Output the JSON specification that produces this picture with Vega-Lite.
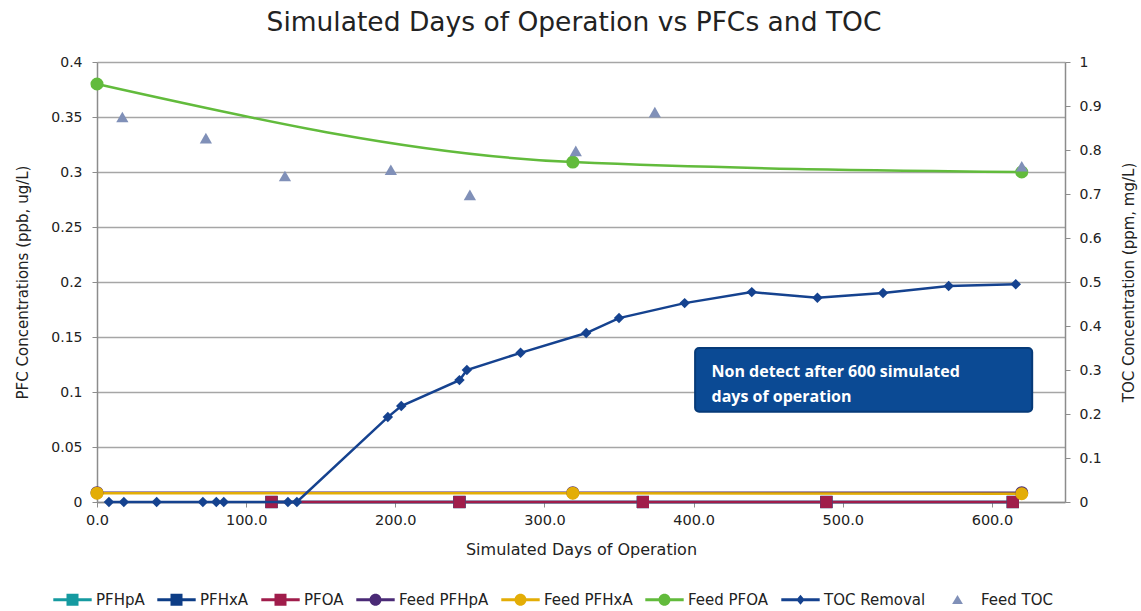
{
  "$schema": "https://vega.github.io/schema/vega-lite/v6.json",
  "width": 968,
  "height": 440,
  "autosize": {"type": "none"},
  "padding": {"left": 97, "top": 62, "right": 76, "bottom": 109},
  "background": "white",
  "title": {"text": "Simulated Days of Operation vs PFCs and TOC", "font": "DejaVu Sans", "fontSize": 26.5, "fontWeight": "normal", "color": "#222222", "offset": 19, "anchor": "middle", "dx": -7},
  "datasets": {
    "pfc": [
      {"series": "PFHpA", "day": 117, "value": 0},
      {"series": "PFHpA", "day": 243, "value": 0},
      {"series": "PFHpA", "day": 366, "value": 0},
      {"series": "PFHpA", "day": 489, "value": 0},
      {"series": "PFHpA", "day": 614, "value": 0},
      {"series": "PFHxA", "day": 117, "value": 0},
      {"series": "PFHxA", "day": 243, "value": 0},
      {"series": "PFHxA", "day": 366, "value": 0},
      {"series": "PFHxA", "day": 489, "value": 0},
      {"series": "PFHxA", "day": 614, "value": 0},
      {"series": "Feed PFHpA", "day": 0, "value": 0.0085},
      {"series": "Feed PFHpA", "day": 319, "value": 0.0085},
      {"series": "Feed PFHpA", "day": 620, "value": 0.0085},
      {"series": "Feed PFHxA", "day": 0, "value": 0.008},
      {"series": "Feed PFHxA", "day": 319, "value": 0.008},
      {"series": "Feed PFHxA", "day": 620, "value": 0.0075},
      {"series": "PFOA", "day": 117, "value": 0},
      {"series": "PFOA", "day": 243, "value": 0},
      {"series": "PFOA", "day": 366, "value": 0},
      {"series": "PFOA", "day": 489, "value": 0},
      {"series": "PFOA", "day": 614, "value": 0},
      {"series": "Feed PFOA", "day": 0, "value": 0.38},
      {"series": "Feed PFOA", "day": 319, "value": 0.309},
      {"series": "Feed PFOA", "day": 620, "value": 0.3}
    ],
    "toc": [
      {"series": "TOC Removal", "day": 8, "value": 0},
      {"series": "TOC Removal", "day": 18, "value": 0},
      {"series": "TOC Removal", "day": 40, "value": 0},
      {"series": "TOC Removal", "day": 71, "value": 0},
      {"series": "TOC Removal", "day": 80, "value": 0},
      {"series": "TOC Removal", "day": 85, "value": 0},
      {"series": "TOC Removal", "day": 128, "value": 0},
      {"series": "TOC Removal", "day": 134, "value": 0},
      {"series": "TOC Removal", "day": 195, "value": 0.193},
      {"series": "TOC Removal", "day": 204, "value": 0.218},
      {"series": "TOC Removal", "day": 243, "value": 0.277},
      {"series": "TOC Removal", "day": 248, "value": 0.3},
      {"series": "TOC Removal", "day": 284, "value": 0.339},
      {"series": "TOC Removal", "day": 328, "value": 0.384},
      {"series": "TOC Removal", "day": 350, "value": 0.418},
      {"series": "TOC Removal", "day": 394, "value": 0.452},
      {"series": "TOC Removal", "day": 439, "value": 0.477},
      {"series": "TOC Removal", "day": 483, "value": 0.464},
      {"series": "TOC Removal", "day": 527, "value": 0.475},
      {"series": "TOC Removal", "day": 571, "value": 0.491},
      {"series": "TOC Removal", "day": 616, "value": 0.495},
      {"series": "Feed TOC", "day": 17, "value": 0.875},
      {"series": "Feed TOC", "day": 73, "value": 0.827},
      {"series": "Feed TOC", "day": 126, "value": 0.741},
      {"series": "Feed TOC", "day": 197, "value": 0.755},
      {"series": "Feed TOC", "day": 250, "value": 0.698},
      {"series": "Feed TOC", "day": 321, "value": 0.798},
      {"series": "Feed TOC", "day": 374, "value": 0.886},
      {"series": "Feed TOC", "day": 620, "value": 0.763}
    ],
    "box": [
      {"x1": 401, "x2": 627, "y1": 0.082, "y2": 0.14}
    ],
    "note": [
      {"label": "Non detect after 600 simulated", "x": 412, "y": 0.118},
      {"label": "days of operation", "x": 412, "y": 0.0955}
    ]
  },
  "layer": [
    {
      "data": {"name": "pfc"},
      "layer": [
        {
          "transform": [{"filter": "datum.series != 'Feed PFOA'"}],
          "mark": {"type": "line", "strokeWidth": 2.5},
          "encoding": {
            "x": {"field": "day", "type": "quantitative", "scale": {"domain": [0, 649], "nice": false, "zero": false},
              "axis": {"title": "Simulated Days of Operation", "values": [0, 100, 200, 300, 400, 500, 600], "format": ".1f", "grid": false, "labelFlush": false, "domainColor": "#8c8c8c", "domainWidth": 1.5, "tickColor": "#8c8c8c", "tickSize": 5, "labelFont": "DejaVu Sans", "labelFontSize": 14.5, "labelColor": "#222222", "labelPadding": 6, "titleFont": "DejaVu Sans", "titleFontSize": 16, "titleFontWeight": "normal", "titleColor": "#222222", "titlePadding": 15}},
            "y": {"field": "value", "type": "quantitative", "scale": {"domain": [0, 0.4], "nice": false},
              "axis": {"orient": "left", "title": "PFC Concentrations (ppb, ug/L)", "values": [0, 0.05, 0.1, 0.15, 0.2, 0.25, 0.3, 0.35, 0.4], "format": "~g", "grid": true, "gridColor": "#a6a6a6", "gridWidth": 1.5, "domainColor": "#8c8c8c", "domainWidth": 1.5, "tickColor": "#8c8c8c", "tickSize": 5, "labelFont": "DejaVu Sans", "labelFontSize": 14, "labelColor": "#222222", "labelPadding": 10, "titleFont": "DejaVu Sans", "titleFontSize": 15, "titleFontWeight": "normal", "titleColor": "#222222", "titlePadding": 20}},
            "color": {"field": "series", "type": "nominal",
              "scale": {"domain": ["PFHpA", "PFHxA", "PFOA", "Feed PFHpA", "Feed PFHxA", "Feed PFOA", "TOC Removal", "Feed TOC"],
                "range": ["#159aa0", "#0d3d86", "#a01d4b", "#4a2a76", "#e3ad06", "#62bb3c", "#15428f", "#8090b8"]},
              "legend": {"title": null}}
          }
        },
        {
          "transform": [{"filter": "datum.series == 'Feed PFOA'"}],
          "mark": {"type": "line", "strokeWidth": 2.5, "interpolate": "monotone"},
          "encoding": {
            "x": {"field": "day", "type": "quantitative"},
            "y": {"field": "value", "type": "quantitative"},
            "color": {"field": "series", "type": "nominal",
              "scale": {"domain": ["PFHpA", "PFHxA", "PFOA", "Feed PFHpA", "Feed PFHxA", "Feed PFOA", "TOC Removal", "Feed TOC"],
                "range": ["#159aa0", "#0d3d86", "#a01d4b", "#4a2a76", "#e3ad06", "#62bb3c", "#15428f", "#8090b8"]},
              "legend": {"title": null}}
          }
        },
        {
          "transform": [{"filter": "indexof(['PFHpA','PFHxA','PFOA'], datum.series) >= 0"}],
          "mark": {"type": "point", "shape": "square", "filled": true, "opacity": 1, "size": 150},
          "encoding": {
            "x": {"field": "day", "type": "quantitative"},
            "y": {"field": "value", "type": "quantitative"},
            "color": {"field": "series", "type": "nominal",
              "scale": {"domain": ["PFHpA", "PFHxA", "PFOA", "Feed PFHpA", "Feed PFHxA", "Feed PFOA", "TOC Removal", "Feed TOC"],
                "range": ["#159aa0", "#0d3d86", "#a01d4b", "#4a2a76", "#e3ad06", "#62bb3c", "#15428f", "#8090b8"]},
              "legend": {"title": null}}
          }
        },
        {
          "transform": [{"filter": "indexof(['Feed PFHpA','Feed PFHxA','Feed PFOA'], datum.series) >= 0"}],
          "mark": {"type": "point", "shape": "circle", "filled": true, "opacity": 1, "size": 170},
          "encoding": {
            "x": {"field": "day", "type": "quantitative"},
            "y": {"field": "value", "type": "quantitative"},
            "color": {"field": "series", "type": "nominal",
              "scale": {"domain": ["PFHpA", "PFHxA", "PFOA", "Feed PFHpA", "Feed PFHxA", "Feed PFOA", "TOC Removal", "Feed TOC"],
                "range": ["#159aa0", "#0d3d86", "#a01d4b", "#4a2a76", "#e3ad06", "#62bb3c", "#15428f", "#8090b8"]},
              "legend": {"title": null}}
          }
        },
        {
          "data": {"name": "box"},
          "mark": {"type": "rect", "fill": "#0b4a94", "stroke": "#063a78", "strokeWidth": 2, "cornerRadius": 4},
          "encoding": {
            "x": {"field": "x1", "type": "quantitative"},
            "x2": {"field": "x2"},
            "y": {"field": "y1", "type": "quantitative"},
            "y2": {"field": "y2"}
          }
        },
        {
          "data": {"name": "note"},
          "mark": {"type": "text", "align": "left", "baseline": "middle", "font": "Open Sans", "fontSize": 16, "fontWeight": "bold", "color": "white"},
          "encoding": {
            "x": {"field": "x", "type": "quantitative"},
            "y": {"field": "y", "type": "quantitative"},
            "text": {"field": "label"}
          }
        }
      ]
    },
    {
      "data": {"name": "toc"},
      "layer": [
        {
          "transform": [{"filter": "datum.series == 'TOC Removal'"}],
          "mark": {"type": "line", "strokeWidth": 2.5},
          "encoding": {
            "x": {"field": "day", "type": "quantitative"},
            "y": {"field": "value", "type": "quantitative", "scale": {"domain": [0, 1], "nice": false},
              "axis": {"orient": "right", "title": "TOC Concentration (ppm, mg/L)", "values": [0, 0.1, 0.2, 0.3, 0.4, 0.5, 0.6, 0.7, 0.8, 0.9, 1], "format": "~g", "grid": false, "domainColor": "#8c8c8c", "domainWidth": 1.5, "tickColor": "#8c8c8c", "tickSize": 5, "labelFont": "DejaVu Sans", "labelFontSize": 14, "labelColor": "#222222", "labelPadding": 9, "titleFont": "DejaVu Sans", "titleFontSize": 15, "titleFontWeight": "normal", "titleColor": "#222222", "titleAngle": 270, "titleBaseline": "top", "titlePadding": 20}},
            "color": {"field": "series", "type": "nominal",
              "scale": {"domain": ["PFHpA", "PFHxA", "PFOA", "Feed PFHpA", "Feed PFHxA", "Feed PFOA", "TOC Removal", "Feed TOC"],
                "range": ["#159aa0", "#0d3d86", "#a01d4b", "#4a2a76", "#e3ad06", "#62bb3c", "#15428f", "#8090b8"]},
              "legend": {"title": null}}
          }
        },
        {
          "transform": [{"filter": "datum.series == 'TOC Removal'"}],
          "mark": {"type": "point", "shape": "diamond", "filled": true, "opacity": 1, "size": 110},
          "encoding": {
            "x": {"field": "day", "type": "quantitative"},
            "y": {"field": "value", "type": "quantitative"},
            "color": {"field": "series", "type": "nominal",
              "scale": {"domain": ["PFHpA", "PFHxA", "PFOA", "Feed PFHpA", "Feed PFHxA", "Feed PFOA", "TOC Removal", "Feed TOC"],
                "range": ["#159aa0", "#0d3d86", "#a01d4b", "#4a2a76", "#e3ad06", "#62bb3c", "#15428f", "#8090b8"]},
              "legend": {"title": null}}
          }
        },
        {
          "transform": [{"filter": "datum.series == 'Feed TOC'"}],
          "mark": {"type": "point", "shape": "triangle-up", "filled": true, "opacity": 1, "size": 150},
          "encoding": {
            "x": {"field": "day", "type": "quantitative"},
            "y": {"field": "value", "type": "quantitative"},
            "color": {"field": "series", "type": "nominal",
              "scale": {"domain": ["PFHpA", "PFHxA", "PFOA", "Feed PFHpA", "Feed PFHxA", "Feed PFOA", "TOC Removal", "Feed TOC"],
                "range": ["#159aa0", "#0d3d86", "#a01d4b", "#4a2a76", "#e3ad06", "#62bb3c", "#15428f", "#8090b8"]},
              "legend": {"title": null}}
          }
        },
        {
          "transform": [{"filter": "datum.day < 0"}],
          "mark": {"type": "point", "filled": true, "opacity": 1},
          "encoding": {
            "x": {"field": "day", "type": "quantitative"},
            "y": {"field": "value", "type": "quantitative"},
            "color": {"field": "series", "type": "nominal",
              "scale": {"domain": ["PFHpA", "PFHxA", "PFOA", "Feed PFHpA", "Feed PFHxA", "Feed PFOA", "TOC Removal", "Feed TOC"],
                "range": ["#159aa0", "#0d3d86", "#a01d4b", "#4a2a76", "#e3ad06", "#62bb3c", "#15428f", "#8090b8"]},
              "legend": {"title": null}},
            "shape": {"field": "series", "type": "nominal",
              "scale": {"domain": ["PFHpA", "PFHxA", "PFOA", "Feed PFHpA", "Feed PFHxA", "Feed PFOA", "TOC Removal", "Feed TOC"],
                "range": [
                  "M-3.2,-0.25H3.2V0.25H-3.2Z M-1,-1H1V1H-1Z",
                  "M-3.2,-0.25H3.2V0.25H-3.2Z M-1,-1H1V1H-1Z",
                  "M-3.2,-0.25H3.2V0.25H-3.2Z M-1,-1H1V1H-1Z",
                  "M-3.2,-0.25H3.2V0.25H-3.2Z M-1,0A1,1 0 1,1 1,0A1,1 0 1,1 -1,0Z",
                  "M-3.2,-0.25H3.2V0.25H-3.2Z M-1,0A1,1 0 1,1 1,0A1,1 0 1,1 -1,0Z",
                  "M-3.2,-0.25H3.2V0.25H-3.2Z M-1,0A1,1 0 1,1 1,0A1,1 0 1,1 -1,0Z",
                  "M-3.2,-0.25H3.2V0.25H-3.2Z M0,-0.85L0.7,0L0,0.85L-0.7,0Z",
                  "M0,-0.8L0.9,0.7H-0.9Z"
                ]},
              "legend": {"title": null}}
          }
        }
      ]
    }
  ],
  "resolve": {"scale": {"y": "independent"}},
  "config": {
    "view": {"stroke": null},
    "legend": {"orient": "none", "legendX": -45, "legendY": 530, "direction": "horizontal", "symbolSize": 144, "symbolStrokeWidth": 0, "symbolOffset": 13, "labelOffset": 16, "columnPadding": 11, "labelFont": "DejaVu Sans", "labelFontSize": 15, "labelColor": "#222222", "symbolOpacity": 1}
  }
}
